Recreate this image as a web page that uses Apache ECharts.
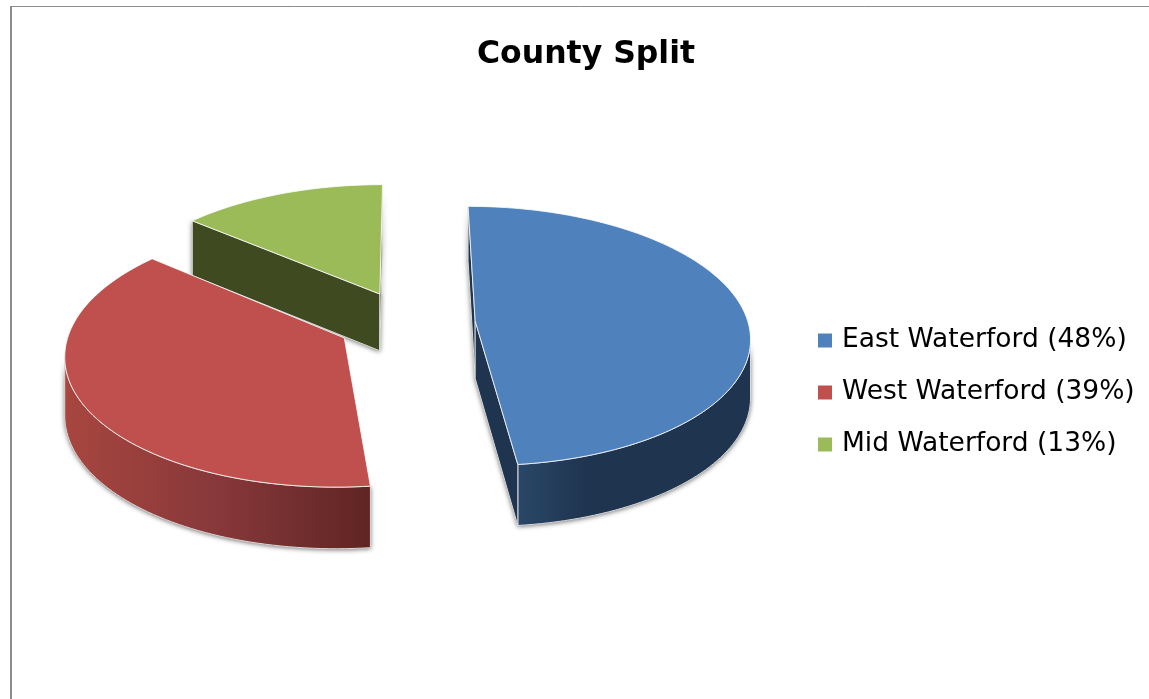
<!DOCTYPE html>
<html>
<head>
<meta charset="utf-8">
<style>html,body{margin:0;padding:0;background:#fff}#chart{width:1149px;height:699px}</style>
<script src="https://cdn.jsdelivr.net/npm/echarts@6/dist/echarts.min.js"></script>
</head>
<body>
<div id="chart"></div>
<script>
// County split, drawn as an exploded pie tilted in perspective.
const categories = ['East Waterford', 'West Waterford', 'Mid Waterford'];
const shares = [48, 39, 13];
const titleText = 'County Split';

const topColors = ['#4f81bd', '#c0504d', '#9bbb59'];
const cutColors = ['#1f344f', '#5f2523', '#404a20'];
const wallStops = [
  [[0, '#2a4768'], [0.3, '#1f344f'], [1, '#1f344f']],
  [[0, '#a8463f'], [0.5, '#87383a'], [1, '#5f2523']],
  [[0, '#404a20'], [1, '#404a20']]
];
// Which cut faces show from this viewpoint: [at start angle, at end angle]
const cutFaces = [[true, true], [false, false], [true, true]];
const drawOrder = [2, 0, 1];

// Projection of the pie plane
const centre = [406.5, 323];
const radiusX = 273, radiusY = 128.3, tilt = 0.1154;
const explode = 0.2525, thickness = 57.5;
// Small angular corrections of the camera at each slice boundary, in degrees
const boundaryTurn = [0, 0.9, -3, 0];

const total = shares.reduce((a, b) => a + b, 0);
const rad = d => d * Math.PI / 180;

function project(u, v) {
  const s = 1 / (1 - tilt * v);
  return { x: centre[0] + radiusX * u * s, y: centre[1] + radiusY * v * s, s };
}

function sliceFaces(index, value) {
  let before = 0;
  for (let i = 0; i < index; i++) before += shares[i];
  const a0 = before / total * 360 + boundaryTurn[index];
  const a1 = (before + value) / total * 360 + boundaryTurn[index + 1];
  const mid = rad((before + value / 2) / total * 360);
  const ou = explode * Math.sin(mid), ov = -explode * Math.cos(mid);
  const apex = project(ou, ov);
  const rim = [];
  const steps = Math.ceil((a1 - a0) / 1.5);
  for (let i = 0; i <= steps; i++) {
    const t = rad(a0 + (a1 - a0) * i / steps);
    rim.push(project(ou + Math.sin(t), ov - Math.cos(t)));
  }
  const drop = p => [p.x, p.y + thickness * Math.sqrt(p.s)];
  const flat = p => [p.x, p.y];
  const top = [flat(apex)].concat(rim.map(flat));
  // Only the stretch of rim running right to left faces the viewer
  const front = rim.filter((p, i) =>
    (i > 0 && rim[i - 1].x > p.x) || (i < rim.length - 1 && p.x > rim[i + 1].x));
  const wall = front.length
    ? front.map(flat).concat(front.slice().reverse().map(drop))
    : null;
  const cut = p => [flat(apex), flat(p), drop(p), drop(apex)];
  const cuts = [];
  if (cutFaces[index][0]) cuts.push(cut(rim[0]));
  if (cutFaces[index][1]) cuts.push(cut(rim[rim.length - 1]));
  return { top, wall, cuts };
}

function renderSlice(index) {
  return function (params, api) {
    const f = sliceFaces(index, api.value(0));
    const wallFill = new echarts.graphic.LinearGradient(0, 0, 1, 0,
      wallStops[index].map(s => ({ offset: s[0], color: s[1] })));
    const sideEdge = { stroke: '#dcdcdc', lineWidth: 1 };
    const topEdge = { stroke: 'rgba(255,255,255,0.8)', lineWidth: 1 };
    const shadow = { shadowBlur: 5, shadowColor: 'rgba(0,0,0,0.6)', shadowOffsetX: 0, shadowOffsetY: 1 };
    const sides = f.cuts.map(p => ({ points: p, fill: cutColors[index] }));
    if (f.wall) sides.unshift({ points: f.wall, fill: wallFill });
    const poly = (s, style) => ({
      type: 'polygon', shape: { points: s.points }, silent: true,
      style: Object.assign({ fill: s.fill }, style)
    });
    return {
      type: 'group',
      children: sides.map(s => poly(s, shadow))
        .concat(sides.map(s => poly(s, sideEdge)))
        .concat([poly({ points: f.top, fill: topColors[index] }, topEdge)])
    };
  };
}

const legendNames = categories.map((c, i) => `${c} (${shares[i]}%)`);

const chart = echarts.init(document.getElementById('chart'), null, { renderer: 'canvas' });
chart.setOption({
  animation: false,
  backgroundColor: '#ffffff',
  title: {
    text: titleText, left: 581, top: 34, textAlign: 'center',
    textStyle: { fontFamily: '"Comic Sans MS", "DejaVu Sans"', fontWeight: 'bold', fontSize: 31.5, color: '#000' }
  },
  legend: {
    data: legendNames,
    orient: 'vertical', left: 813, top: 322,
    icon: 'rect', itemWidth: 14, itemHeight: 14, itemGap: 25, selectedMode: false,
    textStyle: { fontFamily: '"Comic Sans MS", "DejaVu Sans"', fontSize: 26.5, lineHeight: 26, color: '#000', padding: [0, 0, 0, 5] }
  },
  graphic: [
    { type: 'line', silent: true, shape: { x1: 10, y1: 6.5, x2: 1149, y2: 6.5 }, style: { stroke: '#8c8c8c', lineWidth: 1 } },
    { type: 'line', silent: true, shape: { x1: 11, y1: 6, x2: 11, y2: 699 }, style: { stroke: '#8c8c8c', lineWidth: 2 } }
  ],
  series: categories.map((c, i) => ({
    type: 'custom',
    name: legendNames[i],
    coordinateSystem: 'none',
    z: 2 + drawOrder.indexOf(i),
    silent: true,
    itemStyle: { color: topColors[i] },
    renderItem: renderSlice(i),
    data: [[shares[i]]]
  }))
});
</script>
</body>
</html>
